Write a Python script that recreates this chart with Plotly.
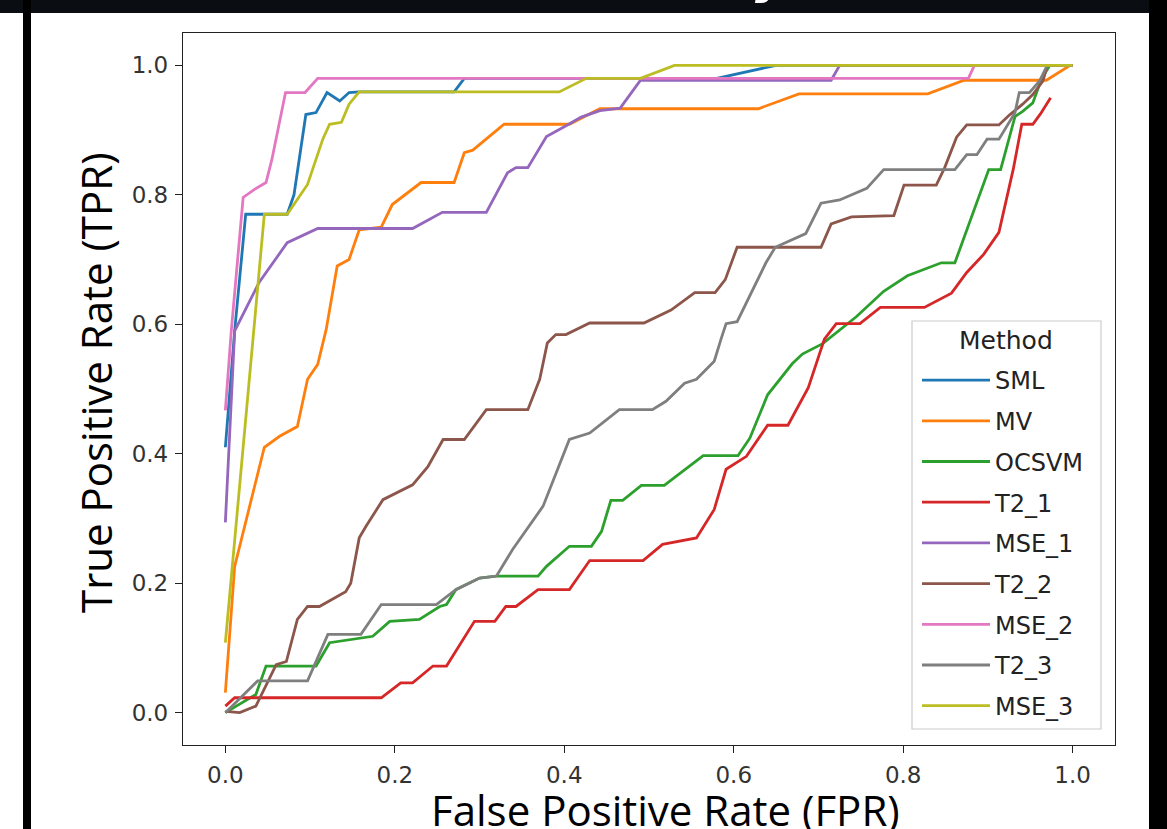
import plotly.graph_objects as go

methods = ["SML", "MV", "OCSVM", "T2_1", "MSE_1", "T2_2", "MSE_2", "T2_3", "MSE_3"]
colors = ["#1f77b4", "#ff7f0e", "#2ca02c", "#d62728", "#9467bd",
          "#8c564b", "#e377c2", "#7f7f7f", "#bcbd22"]

sml_fpr = [0.0, 0.011, 0.024, 0.073, 0.081, 0.095, 0.107, 0.115, 0.12, 0.135, 0.146, 0.158, 0.27, 0.282, 0.58, 0.65, 1.0]
sml_tpr = [0.41, 0.59, 0.77, 0.77, 0.80, 0.924, 0.927, 0.945, 0.958, 0.945, 0.958, 0.959, 0.959, 0.98, 0.98, 1.0, 1.0]

mv_fpr = [0.0, 0.011, 0.046, 0.064, 0.085, 0.097, 0.109, 0.119, 0.132, 0.146, 0.158, 0.184, 0.197, 0.231, 0.27, 0.282, 0.292, 0.329, 0.406, 0.442, 0.629, 0.677, 0.829, 0.872, 0.969, 0.997, 1.0]
mv_tpr = [0.031, 0.226, 0.41, 0.427, 0.442, 0.515, 0.538, 0.592, 0.69, 0.70, 0.746, 0.75, 0.785, 0.819, 0.819, 0.865, 0.869, 0.909, 0.909, 0.933, 0.933, 0.956, 0.956, 0.977, 0.977, 1.0, 1.0]

ocsvm_fpr = [0.0, 0.036, 0.048, 0.107, 0.123, 0.174, 0.194, 0.229, 0.253, 0.261, 0.272, 0.3, 0.32, 0.369, 0.379, 0.406, 0.432, 0.444, 0.455, 0.469, 0.491, 0.518, 0.564, 0.605, 0.619, 0.64, 0.669, 0.681, 0.705, 0.745, 0.777, 0.805, 0.845, 0.861, 0.901, 0.915, 0.932, 0.941, 0.953, 0.963, 0.973, 1.0]
ocsvm_tpr = [0.0, 0.028, 0.072, 0.072, 0.108, 0.118, 0.141, 0.144, 0.164, 0.167, 0.19, 0.208, 0.211, 0.211, 0.226, 0.257, 0.257, 0.28, 0.328, 0.328, 0.351, 0.351, 0.397, 0.397, 0.424, 0.491, 0.539, 0.554, 0.57, 0.612, 0.651, 0.675, 0.695, 0.695, 0.839, 0.839, 0.921, 0.929, 0.942, 0.978, 1.0, 1.0]

t21_fpr = [0.0, 0.011, 0.184, 0.207, 0.221, 0.245, 0.261, 0.294, 0.318, 0.331, 0.343, 0.369, 0.406, 0.43, 0.493, 0.516, 0.556, 0.577, 0.591, 0.615, 0.64, 0.664, 0.688, 0.707, 0.721, 0.749, 0.773, 0.825, 0.857, 0.875, 0.895, 0.913, 0.93, 0.94, 0.953, 0.962, 0.974]
t21_tpr = [0.01, 0.023, 0.023, 0.046, 0.046, 0.072, 0.072, 0.141, 0.141, 0.164, 0.164, 0.19, 0.19, 0.235, 0.235, 0.26, 0.27, 0.314, 0.376, 0.396, 0.444, 0.444, 0.502, 0.577, 0.601, 0.601, 0.626, 0.626, 0.648, 0.68, 0.708, 0.742, 0.84, 0.909, 0.909, 0.925, 0.95]

mse1_fpr = [0.0, 0.011, 0.04, 0.073, 0.109, 0.221, 0.256, 0.308, 0.333, 0.343, 0.357, 0.379, 0.40, 0.42, 0.442, 0.466, 0.49, 0.715, 0.725, 1.0]
mse1_tpr = [0.294, 0.59, 0.665, 0.726, 0.748, 0.748, 0.773, 0.773, 0.834, 0.842, 0.842, 0.89, 0.905, 0.92, 0.93, 0.934, 0.977, 0.977, 1.0, 1.0]

t22_fpr = [0.0, 0.017, 0.036, 0.06, 0.072, 0.085, 0.097, 0.111, 0.142, 0.148, 0.158, 0.166, 0.186, 0.198, 0.221, 0.239, 0.257, 0.282, 0.308, 0.357, 0.371, 0.38, 0.39, 0.402, 0.43, 0.494, 0.526, 0.554, 0.578, 0.59, 0.604, 0.703, 0.715, 0.739, 0.789, 0.801, 0.839, 0.849, 0.863, 0.875, 0.913, 0.926, 0.941, 0.953, 0.965, 0.97, 1.0]
t22_tpr = [0.002, 0.0, 0.01, 0.074, 0.079, 0.144, 0.164, 0.164, 0.187, 0.2, 0.27, 0.288, 0.329, 0.337, 0.352, 0.38, 0.422, 0.422, 0.468, 0.468, 0.515, 0.571, 0.584, 0.584, 0.602, 0.602, 0.622, 0.649, 0.649, 0.669, 0.719, 0.719, 0.755, 0.766, 0.768, 0.815, 0.815, 0.842, 0.889, 0.908, 0.908, 0.924, 0.94, 0.955, 0.976, 1.0, 1.0]

mse2_fpr = [0.0, 0.007, 0.021, 0.034, 0.048, 0.055, 0.071, 0.094, 0.109, 0.877, 0.884, 1.0]
mse2_tpr = [0.467, 0.59, 0.796, 0.808, 0.819, 0.855, 0.958, 0.958, 0.98, 0.98, 1.0, 1.0]

t23_fpr = [0.0, 0.038, 0.097, 0.121, 0.16, 0.184, 0.249, 0.272, 0.3, 0.32, 0.339, 0.375, 0.406, 0.43, 0.465, 0.504, 0.52, 0.542, 0.556, 0.577, 0.585, 0.591, 0.604, 0.638, 0.649, 0.685, 0.703, 0.725, 0.757, 0.777, 0.861, 0.875, 0.887, 0.899, 0.913, 0.932, 0.937, 0.949, 0.961, 0.967, 0.97, 1.0]
t23_tpr = [0.0, 0.049, 0.049, 0.121, 0.121, 0.167, 0.167, 0.19, 0.208, 0.211, 0.252, 0.319, 0.422, 0.432, 0.468, 0.468, 0.481, 0.509, 0.515, 0.543, 0.577, 0.601, 0.604, 0.695, 0.719, 0.74, 0.787, 0.792, 0.81, 0.839, 0.839, 0.862, 0.862, 0.886, 0.886, 0.927, 0.958, 0.958, 0.976, 0.991, 1.0, 1.0]

mse3_fpr = [0.0, 0.046, 0.073, 0.097, 0.115, 0.123, 0.137, 0.146, 0.158, 0.394, 0.426, 0.49, 0.53, 1.0]
mse3_tpr = [0.108, 0.77, 0.77, 0.816, 0.886, 0.909, 0.912, 0.94, 0.959, 0.959, 0.98, 0.98, 1.0, 1.0]

x_ticks = [0.0, 0.2, 0.4, 0.6, 0.8, 1.0]
y_ticks = [0.0, 0.2, 0.4, 0.6, 0.8, 1.0]

series = [
    (sml_fpr, sml_tpr), (mv_fpr, mv_tpr), (ocsvm_fpr, ocsvm_tpr),
    (t21_fpr, t21_tpr), (mse1_fpr, mse1_tpr), (t22_fpr, t22_tpr),
    (mse2_fpr, mse2_tpr), (t23_fpr, t23_tpr), (mse3_fpr, mse3_tpr),
]

fig = go.Figure()
for name, color, (fx, ty) in zip(methods, colors, series):
    fig.add_trace(go.Scatter(
        x=fx, y=ty, mode="lines", name=name, legendgroup=name,
        line=dict(color=color, width=2.8),
    ))

W, H = 1167, 829
L, R, T, B = 183, 52, 33, 84
PW, PH = W - L - R, H - T - B


def px(xp):
    return (xp - L) / PW


def py(yp):
    return (H - B - yp) / PH


axis_common = dict(
    range=[-0.05, 1.05], showgrid=False, zeroline=False,
    showline=True, mirror=True, linecolor="#222", linewidth=1.3,
    ticks="outside", ticklen=7, tickwidth=1.3, tickcolor="#222",
    tickformat=".1f", ticklabelstandoff=2,
    tickfont=dict(family="DejaVu Sans", size=23, color="#333"),
)

fig.update_layout(
    width=W, height=H,
    margin=dict(l=L, r=R, t=T, b=B),
    paper_bgcolor="white", plot_bgcolor="white",
    showlegend=True,
    xaxis=dict(tickvals=x_ticks, **axis_common),
    yaxis=dict(tickvals=y_ticks, **axis_common),
    legend=dict(
        x=px(917), y=py(358), xanchor="left", yanchor="top",
        bgcolor="rgba(0,0,0,0)", borderwidth=0,
        font=dict(family="DejaVu Sans", size=24, color="#222"),
        tracegroupgap=6.5, itemwidth=68,
    ),
)

# legend frame
fig.add_shape(type="rect", xref="paper", yref="paper",
              x0=px(912), x1=px(1101), y0=py(729), y1=py(321),
              fillcolor="rgba(255,255,255,0.85)", line=dict(color="#cccccc", width=1.2),
              layer="above")
fig.add_annotation(text="Method", xref="paper", yref="paper",
                   x=px(1006), y=py(340), xanchor="center", yanchor="middle",
                   showarrow=False, font=dict(family="DejaVu Sans", size=25, color="#222"))

# axis titles
fig.add_annotation(text="False Positive Rate (FPR)", xref="paper", yref="paper",
                   x=px(665), y=py(809), xanchor="center", yanchor="middle",
                   showarrow=False, font=dict(family="Open Sans", size=42, color="black"))
fig.add_annotation(text="True Positive Rate (TPR)", xref="paper", yref="paper",
                   x=px(95), y=py(383), xanchor="center", yanchor="middle", textangle=-90,
                   showarrow=False, font=dict(family="Open Sans", size=42, color="black"))

# dark frame of the screenshot
frame = "#0a0d12"
fig.add_shape(type="rect", xref="paper", yref="paper", x0=px(-10), x1=px(W + 10),
              y0=py(13), y1=py(-10), fillcolor=frame, line=dict(width=0), layer="above")
fig.add_shape(type="rect", xref="paper", yref="paper", x0=px(23), x1=px(31),
              y0=py(H + 10), y1=py(-10), fillcolor="black", line=dict(width=0), layer="above")
fig.add_shape(type="rect", xref="paper", yref="paper", x0=px(1149), x1=px(W + 10),
              y0=py(H + 10), y1=py(-10), fillcolor="black", line=dict(width=0), layer="above")

# cut-off title glyph at the top of the screenshot
fig.add_annotation(text="y", xref="paper", yref="paper",
                   x=px(772), y=py(7), xanchor="center", yanchor="bottom",
                   showarrow=False,
                   font=dict(family="DejaVu Sans", size=50, color="white",
                             weight="bold", style="italic"))

fig.write_html("out.html", config={"displayModeBar": False},
               post_script="document.body.style.margin='0';")
